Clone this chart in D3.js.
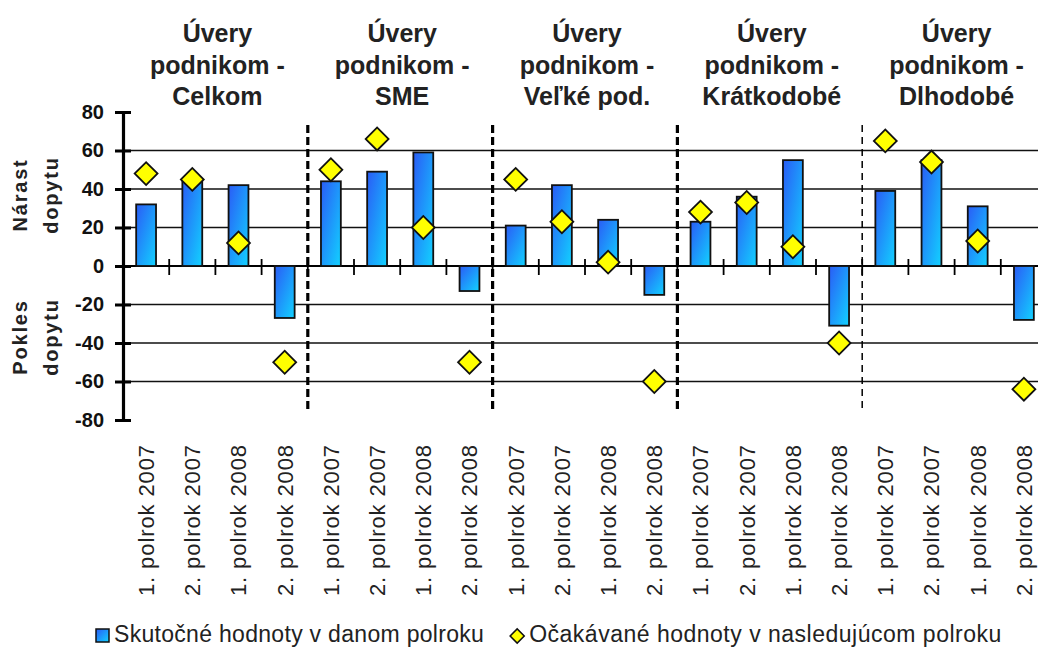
<!DOCTYPE html>
<html>
<head>
<meta charset="utf-8">
<script src="https://cdn.jsdelivr.net/npm/d3@7"></script>
<style>
  body { margin: 0; background: #fff; }
  svg { display: block; font-family: "Liberation Sans", Arial, sans-serif; }
</style>
</head>
<body>
<svg width="1038" height="649"></svg>
<script>
// data
var periods = ["1. polrok 2007", "2. polrok 2007", "1. polrok 2008", "2. polrok 2008"];
var groups = [
  ["Úvery", "podnikom -", "Celkom"],
  ["Úvery", "podnikom -", "SME"],
  ["Úvery", "podnikom -", "Veľké pod."],
  ["Úvery", "podnikom -", "Krátkodobé"],
  ["Úvery", "podnikom -", "Dlhodobé"]
];
var actual = [32, 45, 42, -27, 44, 49, 59, -13, 21, 42, 24, -15, 23, 36, 55, -31, 39, 55, 31, -28];
var expected = [48, 45, 12, -50, 50, 66, 20, -50, 45, 23, 2, -60, 28, 33, 10, -40, 65, 54, 13, -64];
var yTicks = [80, 60, 40, 20, 0, -20, -40, -60, -80];
var gridValues = [60, 40, 20, -20, -40, -60];
var legendLabels = ["Skutočné hodnoty v danom polroku", "Očakávané hodnoty v nasledujúcom polroku"];

var svg = d3.select("svg"),
    width = +svg.attr("width");

var categories = d3.range(actual.length);

var x = d3.scaleBand()
  .domain(categories)
  .range([123, 1047]);

var y = d3.scaleLinear()
  .domain([-80, 80])
  .range([420, 112]);

var bar_width = x.bandwidth() * 0.43;

var defs = svg.append("defs");
var grad = defs.append("linearGradient")
  .attr("id", "bar_grad")
  .attr("x1", 0).attr("y1", 0).attr("x2", 1).attr("y2", 1);
grad.append("stop").attr("offset", "0%").attr("stop-color", "#2a5cf6");
grad.append("stop").attr("offset", "100%").attr("stop-color", "#12d2ff");

// gridlines
svg.append("g")
  .selectAll("line")
  .data(gridValues)
  .join("line")
  .attr("x1", x.range()[0])
  .attr("x2", width)
  .attr("y1", function(d) { return y(d); })
  .attr("y2", function(d) { return y(d); })
  .attr("stroke", "#111")
  .attr("stroke-width", 1.6);

// group separators
var seps = [4, 8, 12, 16];
svg.append("g")
  .selectAll("line")
  .data(seps)
  .join("line")
  .attr("x1", function(d) { return x(d); })
  .attr("x2", function(d) { return x(d); })
  .attr("y1", 125)
  .attr("y2", 412)
  .attr("stroke", "#000")
  .attr("stroke-width", function(d, i) { return i < 3 ? 3.2 : 1.5; })
  .attr("stroke-dasharray", function(d, i) { return i < 3 ? "8,4" : "7,5"; });

// zero line with boundary ticks
svg.append("line")
  .attr("x1", x.range()[0]).attr("x2", width)
  .attr("y1", y(0)).attr("y2", y(0))
  .attr("stroke", "#000").attr("stroke-width", 2);

svg.append("g")
  .selectAll("line")
  .data(categories.slice(1))
  .join("line")
  .attr("x1", function(d) { return x(d); })
  .attr("x2", function(d) { return x(d); })
  .attr("y1", y(0) - 7)
  .attr("y2", y(0) + 9)
  .attr("stroke", "#000")
  .attr("stroke-width", 1.8);

// bars
svg.append("g")
  .selectAll("rect")
  .data(actual)
  .join("rect")
  .attr("x", function(d, i) { return x(i) + (x.bandwidth() - bar_width) / 2; })
  .attr("y", function(d) { return y(Math.max(d, 0)); })
  .attr("width", bar_width)
  .attr("height", function(d) { return Math.abs(y(d) - y(0)); })
  .attr("fill", "url(#bar_grad)")
  .attr("stroke", "#111")
  .attr("stroke-width", 1.8);

// diamonds
var diamond = d3.symbol(d3.symbolSquare, 262);
svg.append("g")
  .selectAll("path")
  .data(expected)
  .join("path")
  .attr("d", diamond)
  .attr("transform", function(d, i) {
    return "translate(" + (x(i) + x.bandwidth() / 2) + "," + y(d) + ") rotate(45)";
  })
  .attr("fill", "#ffff00")
  .attr("stroke", "#111")
  .attr("stroke-width", 1.8);

// y axis
var y_axis = svg.append("g")
  .attr("transform", "translate(" + x.range()[0] + ",0)")
  .call(d3.axisLeft(y)
    .tickValues(yTicks)
    .tickFormat(function(d) { return String(d); })
    .tickSize(8).tickSizeOuter(0).tickPadding(11));
y_axis.select(".domain").attr("stroke-width", 3.2);
y_axis.selectAll(".tick line").attr("x2", 8).attr("x1", -8).attr("stroke-width", 3);
y_axis.selectAll(".tick text")
  .attr("font-size", "20px")
  .attr("font-weight", "bold")
  .attr("fill", "#111")
  .attr("font-family", "Liberation Sans, Arial, sans-serif");

// side labels
var side = [["Nárast", "dopytu", 195], ["Pokles", "dopytu", 337]];
side.forEach(function(s) {
  [s[0], s[1]].forEach(function(t, k) {
    svg.append("text")
      .attr("transform", "translate(" + (20 + k * 31) + "," + s[2] + ") rotate(-90)")
      .attr("text-anchor", "middle")
      .attr("dy", "0.35em")
      .attr("font-size", "20px")
      .attr("font-weight", "bold")
      .attr("letter-spacing", "1.8px")
      .attr("fill", "#222")
      .text(t);
  });
});

// group titles
svg.append("g")
  .selectAll("text")
  .data(groups)
  .join("text")
  .attr("text-anchor", "middle")
  .attr("font-size", "25px")
  .attr("font-weight", "bold")
  .attr("fill", "#222")
  .each(function(d, i) {
    var cx = (x(i * 4) + x(i * 4 + 3) + x.bandwidth()) / 2 + 2;
    d3.select(this).selectAll("tspan")
      .data(d)
      .join("tspan")
      .attr("x", cx)
      .attr("y", function(t, k) { return 42 + k * 31.5; })
      .text(function(t) { return t; });
  });

// category labels
svg.append("g")
  .selectAll("text")
  .data(categories)
  .join("text")
  .attr("transform", function(d) {
    return "translate(" + (x(d) + x.bandwidth() / 2) + ",444) rotate(-90)";
  })
  .attr("text-anchor", "end")
  .attr("dy", "0.36em")
  .attr("font-size", "22px")
  .attr("letter-spacing", "0.9px")
  .attr("fill", "#222")
  .text(function(d) { return periods[d % 4]; });

// legend
var legend = svg.append("g");
legend.append("rect")
  .attr("x", 96).attr("y", 629)
  .attr("width", 13).attr("height", 13)
  .attr("fill", "url(#bar_grad)")
  .attr("stroke", "#111").attr("stroke-width", 1.5);
var t1 = legend.append("text")
  .attr("x", 114).attr("y", 642)
  .attr("font-size", "23px")
  .attr("letter-spacing", "0.3px")
  .attr("fill", "#222")
  .text(legendLabels[0]);
var end1 = 114 + t1.node().getComputedTextLength();
legend.append("path")
  .attr("d", d3.symbol(d3.symbolSquare, 100))
  .attr("transform", "translate(" + (end1 + 33) + ",636) rotate(45)")
  .attr("fill", "#ffff00")
  .attr("stroke", "#111").attr("stroke-width", 1.5);
legend.append("text")
  .attr("x", end1 + 45).attr("y", 642)
  .attr("font-size", "23px")
  .attr("letter-spacing", "0.5px")
  .attr("fill", "#222")
  .text(legendLabels[1]);
</script>
</body>
</html>
